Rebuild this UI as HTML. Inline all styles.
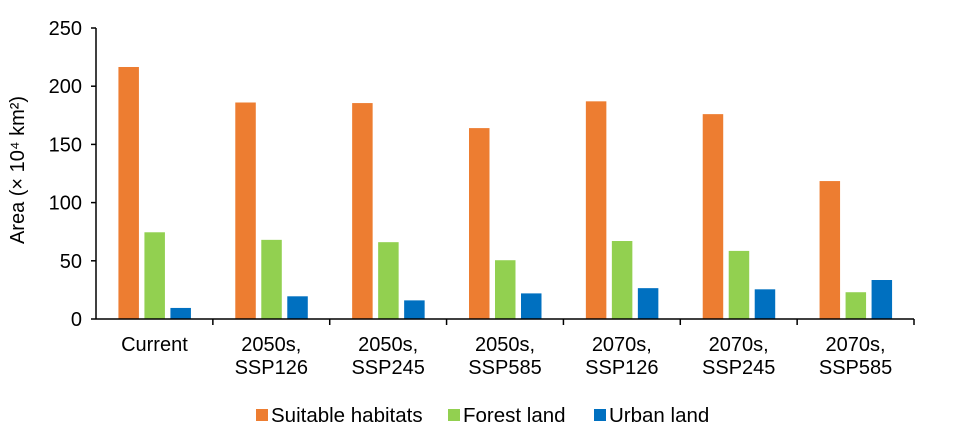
<!DOCTYPE html>
<html><head><meta charset="utf-8"><style>
html,body{margin:0;padding:0;background:#fff;width:957px;height:436px;overflow:hidden}
text{font-family:"Liberation Sans",Arial,sans-serif;fill:#000}
</style></head><body>
<svg id="chart" width="957" height="436" xmlns="http://www.w3.org/2000/svg"></svg>
<script>
const categories=[["Current"],["2050s,","SSP126"],["2050s,","SSP245"],["2050s,","SSP585"],["2070s,","SSP126"],["2070s,","SSP245"],["2070s,","SSP585"]];
const suitable=[216.5,186,185.5,164,187,176,118.5];
const forest=[74.5,68,66,50.5,67,58.5,23];
const urban=[9.5,19.5,16,22,26.5,25.5,33.5];
const yTicks=[0,50,100,150,200,250];
const seriesNames=["Suitable habitats","Forest land","Urban land"];
const colors=["#ED7D31","#92D050","#0070C0"];
const NS="http://www.w3.org/2000/svg";
const svg=document.getElementById('chart');
const x0=96,x1=914,yb=319,yt=28,ymax=250;
const catW=(x1-x0)/categories.length;
function y(v){return yb-(v/ymax)*(yb-yt);}
function mk(t,a){const e=document.createElementNS(NS,t);for(const k in a)e.setAttribute(k,a[k]);svg.appendChild(e);return e;}
yTicks.forEach(v=>{
  const t=mk('text',{x:82,y:y(v)+7,'text-anchor':'end','font-size':20});t.textContent=v;
  
  
  const l=mk('line',{x1:x0-5,x2:x0,y1:y(v),y2:y(v),stroke:'#000','stroke-width':1.5});
  
  
});
const series=[suitable,forest,urban];
categories.forEach((c,i)=>{
  const cx=x0+catW*(i+0.5);
  series.forEach((s,j)=>{
    const bx=cx-36+j*26;
    const r=mk('rect',{x:bx,y:y(s[i]),width:20.5,height:yb-y(s[i]),fill:colors[j]});
    
    
  });
  c.forEach((ln,k)=>{
    const t=mk('text',{x:cx,y:351+k*23,'text-anchor':'middle','font-size':20});t.textContent=ln;
    
    
  });
  const tk=mk('line',{x1:x0+catW*(i+1),x2:x0+catW*(i+1),y1:yb,y2:yb+6,stroke:'#000','stroke-width':1.5});
  
  
});
const ya=mk('line',{x1:x0,x2:x0,y1:yt,y2:yb,stroke:'#000','stroke-width':1.5});


const xa=mk('line',{x1:x0,x2:x1,y1:yb,y2:yb,stroke:'#000','stroke-width':1.5});


const yt2=mk('text',{x:0,y:0,'text-anchor':'middle','font-size':20,transform:'translate(24,170) rotate(-90)'});
yt2.textContent='Area (× 10⁴ km²)';


const lx=[256,448,594];
seriesNames.forEach((n,j)=>{
  const r=mk('rect',{x:lx[j],y:409,width:12,height:12,fill:colors[j]});
  
  
  const t=mk('text',{x:lx[j]+15,y:422,'font-size':20.5});t.textContent=n;
  
  
});
</script>
</body></html>
